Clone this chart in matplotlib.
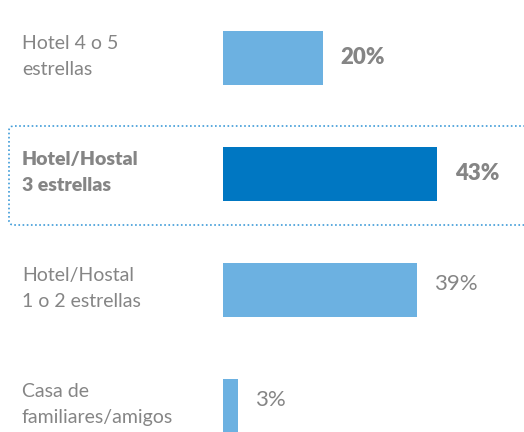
import matplotlib.pyplot as plt
from matplotlib.patches import FancyBboxPatch

categories = ["Hotel 4 o 5\nestrellas", "Hotel/Hostal\n3 estrellas",
              "Hotel/Hostal\n1 o 2 estrellas", "Casa de\nfamiliares/amigos"]
values = [20, 43, 39, 3]
highlight = [False, True, False, False]

LIGHT = "#6cb1e1"
DARK = "#0077c2"
GRAY = "#858585"

W, H = 524, 432
fig = plt.figure(figsize=(W / 100, H / 100), dpi=100)
ax = fig.add_axes([0, 0, 1, 1])

px_per_pct = 4.98
x0 = 223
step = 116
ax.set_xlim(-x0 / px_per_pct, (W - x0) / px_per_pct)
ax.set_ylim((H - 58) / step, -58 / step)
ax.axis("off")

plt.rcParams["font.family"] = ["Lato", "DejaVu Sans"]

ys = list(range(len(values)))
colors = [DARK if h else LIGHT for h in highlight]
ax.barh(ys, values, height=0.465, color=colors, left=0)

label_x = -x0 / px_per_pct + 22 / px_per_pct
for y, cat, v, h in zip(ys, categories, values, highlight):
    ax.text(label_x, y - 0.01, cat, ha="left", va="center", fontsize=14,
            color=GRAY, fontweight="heavy" if h else "normal", linespacing=1.65)
    if v == 20 or h:
        ax.text(v + 18 / px_per_pct, y, f"{v}%", ha="left", va="center",
                fontsize=16, color=GRAY, fontweight="heavy")
    else:
        ax.text(v + 17 / px_per_pct, y - 0.05, f"{v}%", ha="left", va="center",
                fontsize=16, color=GRAY)

# dotted highlight frame around the selected row
box = FancyBboxPatch((9 / W, (H - 225) / H), 530 / W, 99 / H,
                     boxstyle="round,pad=0,rounding_size=0.01",
                     transform=fig.transFigure, fill=False,
                     edgecolor="#3e9bd8", linestyle=(0, (1, 1.5)), linewidth=1.2)
fig.patches.append(box)

fig.savefig("out.png", dpi=100)
